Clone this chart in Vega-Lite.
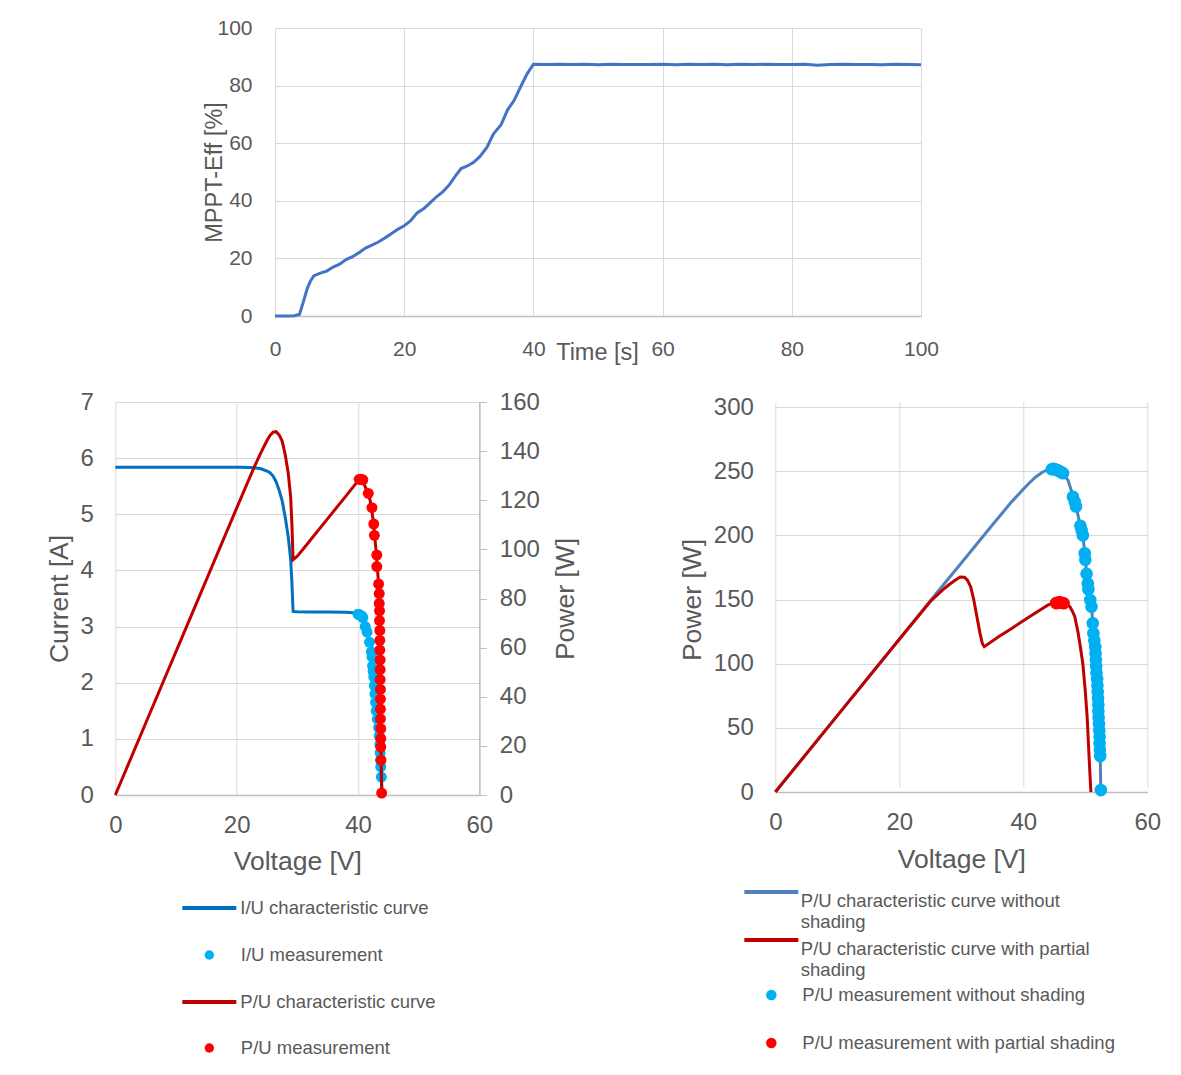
{
  "$schema": "https://vega.github.io/schema/vega-lite/v6.json",
  "background": "white",
  "padding": {"left": 46, "top": 17, "right": 0, "bottom": 0},
  "config": {
    "font": "Liberation Sans",
    "view": {"stroke": null},
    "axis": {
      "labelColor": "#595959", "titleColor": "#595959", "gridColor": "#D9D9D9", "gridWidth": 1,
      "domainColor": "#BFBFBF", "domainWidth": 1.5, "tickColor": "#BFBFBF", "ticks": false, "domain": false,
      "titleFontWeight": "normal", "labelFont": "Liberation Sans", "titleFont": "Liberation Sans", "labelFlush": false
    },
    "legend": {
      "orient": "none", "direction": "vertical", "padding": 0,
      "labelFontSize": 18.5, "labelColor": "#595959", "labelFont": "Liberation Sans", "labelLimit": 500
    }
  },
  "datasets": {
    "mppt": [
      {"t":0,"eff":0},{"t":1,"eff":0},{"t":2,"eff":0},{"t":3,"eff":0.1},{"t":3.8,"eff":0.6},{"t":4.4,"eff":5},{"t":5,"eff":9.6},{"t":5.5,"eff":12.2},{"t":6,"eff":13.9},{"t":7,"eff":14.9},{"t":8,"eff":15.6},{"t":9,"eff":17},{"t":10,"eff":18},{"t":11,"eff":19.6},{"t":12,"eff":20.6},{"t":13,"eff":22},{"t":14,"eff":23.6},{"t":15,"eff":24.6},{"t":16,"eff":25.7},{"t":17,"eff":27.1},{"t":18,"eff":28.6},{"t":19,"eff":30.1},{"t":20,"eff":31.3},{"t":21,"eff":33.1},{"t":22,"eff":35.8},{"t":23,"eff":37.2},{"t":24,"eff":39.3},{"t":25,"eff":41.4},{"t":26,"eff":43.2},{"t":27,"eff":45.6},{"t":28,"eff":48.8},{"t":28.8,"eff":51.2},{"t":29.7,"eff":52},{"t":30.7,"eff":53.3},{"t":31.7,"eff":55.3},{"t":32.8,"eff":58.5},{"t":33.8,"eff":63.2},{"t":35,"eff":66.4},{"t":36,"eff":71.6},{"t":37,"eff":74.8},{"t":38,"eff":79.5},{"t":39,"eff":84},{"t":40,"eff":87.4},{"t":42,"eff":87.3},{"t":44,"eff":87.4},{"t":46,"eff":87.3},{"t":48,"eff":87.4},{"t":50,"eff":87.2},{"t":52,"eff":87.4},{"t":54,"eff":87.3},{"t":56,"eff":87.3},{"t":58,"eff":87.3},{"t":60,"eff":87.4},{"t":62,"eff":87.2},{"t":64,"eff":87.4},{"t":66,"eff":87.3},{"t":68,"eff":87.4},{"t":70,"eff":87.2},{"t":72,"eff":87.4},{"t":74,"eff":87.3},{"t":76,"eff":87.4},{"t":78,"eff":87.3},{"t":80,"eff":87.3},{"t":82,"eff":87.4},{"t":84,"eff":87.1},{"t":86,"eff":87.3},{"t":88,"eff":87.4},{"t":90,"eff":87.3},{"t":92,"eff":87.3},{"t":94,"eff":87.2},{"t":96,"eff":87.4},{"t":98,"eff":87.3},{"t":100,"eff":87.2}
    ],
    "iu_curve": [
      {"s":"I/U characteristic curve","V":0,"I":5.84},{"s":"I/U characteristic curve","V":5,"I":5.84},{"s":"I/U characteristic curve","V":10,"I":5.84},{"s":"I/U characteristic curve","V":15,"I":5.84},{"s":"I/U characteristic curve","V":20,"I":5.84},{"s":"I/U characteristic curve","V":21,"I":5.838},{"s":"I/U characteristic curve","V":22,"I":5.835},{"s":"I/U characteristic curve","V":23,"I":5.83},{"s":"I/U characteristic curve","V":24,"I":5.81},{"s":"I/U characteristic curve","V":25,"I":5.77},{"s":"I/U characteristic curve","V":25.5,"I":5.74},{"s":"I/U characteristic curve","V":26,"I":5.68},{"s":"I/U characteristic curve","V":26.5,"I":5.58},{"s":"I/U characteristic curve","V":27,"I":5.43},{"s":"I/U characteristic curve","V":27.5,"I":5.24},{"s":"I/U characteristic curve","V":28,"I":4.95},{"s":"I/U characteristic curve","V":28.5,"I":4.6},{"s":"I/U characteristic curve","V":28.9,"I":4.2},{"s":"I/U characteristic curve","V":29.1,"I":3.8},{"s":"I/U characteristic curve","V":29.3,"I":3.27},{"s":"I/U characteristic curve","V":30,"I":3.265},{"s":"I/U characteristic curve","V":32,"I":3.26},{"s":"I/U characteristic curve","V":35,"I":3.26},{"s":"I/U characteristic curve","V":38,"I":3.255},{"s":"I/U characteristic curve","V":40,"I":3.24},{"s":"I/U characteristic curve","V":40.5,"I":3.2},{"s":"I/U characteristic curve","V":41,"I":3.1},{"s":"I/U characteristic curve","V":41.5,"I":2.95},{"s":"I/U characteristic curve","V":42,"I":2.7},{"s":"I/U characteristic curve","V":42.5,"I":2.25},{"s":"I/U characteristic curve","V":43,"I":1.6},{"s":"I/U characteristic curve","V":43.3,"I":1.25},{"s":"I/U characteristic curve","V":43.6,"I":0.85},{"s":"I/U characteristic curve","V":43.8,"I":0.45},{"s":"I/U characteristic curve","V":44,"I":0}
    ],
    "iu_meas": [
      {"s":"I/U measurement","V":40.0,"I":3.22},{"s":"I/U measurement","V":40.2,"I":3.21},{"s":"I/U measurement","V":40.4,"I":3.2},{"s":"I/U measurement","V":40.6,"I":3.19},{"s":"I/U measurement","V":40.8,"I":3.16},{"s":"I/U measurement","V":41.2,"I":3.0},{"s":"I/U measurement","V":41.5,"I":2.9},{"s":"I/U measurement","V":41.9,"I":2.72},{"s":"I/U measurement","V":42.2,"I":2.55},{"s":"I/U measurement","V":42.3,"I":2.46},{"s":"I/U measurement","V":42.4,"I":2.3},{"s":"I/U measurement","V":42.5,"I":2.2},{"s":"I/U measurement","V":42.6,"I":2.1},{"s":"I/U measurement","V":42.7,"I":1.95},{"s":"I/U measurement","V":42.8,"I":1.8},{"s":"I/U measurement","V":42.9,"I":1.65},{"s":"I/U measurement","V":43.0,"I":1.5},{"s":"I/U measurement","V":43.2,"I":1.35},{"s":"I/U measurement","V":43.4,"I":1.2},{"s":"I/U measurement","V":43.5,"I":1.05},{"s":"I/U measurement","V":43.6,"I":0.9},{"s":"I/U measurement","V":43.65,"I":0.75},{"s":"I/U measurement","V":43.7,"I":0.62},{"s":"I/U measurement","V":43.75,"I":0.5},{"s":"I/U measurement","V":43.85,"I":0.32}
    ],
    "pu_curve": [
      {"s":"P/U characteristic curve","V":0,"P":0},{"s":"P/U characteristic curve","V":5,"P":29.2},{"s":"P/U characteristic curve","V":10,"P":58.4},{"s":"P/U characteristic curve","V":15,"P":87.6},{"s":"P/U characteristic curve","V":20,"P":116.8},{"s":"P/U characteristic curve","V":21,"P":122.6},{"s":"P/U characteristic curve","V":22,"P":128.4},{"s":"P/U characteristic curve","V":23,"P":134.1},{"s":"P/U characteristic curve","V":24,"P":139.4},{"s":"P/U characteristic curve","V":25,"P":144.3},{"s":"P/U characteristic curve","V":25.5,"P":146.4},{"s":"P/U characteristic curve","V":26,"P":147.7},{"s":"P/U characteristic curve","V":26.5,"P":147.9},{"s":"P/U characteristic curve","V":27,"P":146.6},{"s":"P/U characteristic curve","V":27.5,"P":144.1},{"s":"P/U characteristic curve","V":28,"P":138.6},{"s":"P/U characteristic curve","V":28.5,"P":131.1},{"s":"P/U characteristic curve","V":28.9,"P":121.4},{"s":"P/U characteristic curve","V":29.1,"P":110.6},{"s":"P/U characteristic curve","V":29.3,"P":95.8},{"s":"P/U characteristic curve","V":30,"P":97.2},{"s":"P/U characteristic curve","V":32,"P":103.3},{"s":"P/U characteristic curve","V":35,"P":112.5},{"s":"P/U characteristic curve","V":38,"P":121.7},{"s":"P/U characteristic curve","V":40,"P":127.9},{"s":"P/U characteristic curve","V":40.5,"P":128.6},{"s":"P/U characteristic curve","V":41,"P":126.5},{"s":"P/U characteristic curve","V":41.5,"P":123.8},{"s":"P/U characteristic curve","V":42,"P":120},{"s":"P/U characteristic curve","V":42.5,"P":112},{"s":"P/U characteristic curve","V":43,"P":99},{"s":"P/U characteristic curve","V":43.3,"P":89},{"s":"P/U characteristic curve","V":43.5,"P":80},{"s":"P/U characteristic curve","V":43.6,"P":67},{"s":"P/U characteristic curve","V":43.7,"P":40},{"s":"P/U characteristic curve","V":43.8,"P":18},{"s":"P/U characteristic curve","V":43.9,"P":0}
    ],
    "pu_meas": [
      {"s":"P/U measurement","V":40.2,"P":128.5},{"s":"P/U measurement","V":40.4,"P":128.6},{"s":"P/U measurement","V":40.6,"P":128.5},{"s":"P/U measurement","V":40.8,"P":128.3},{"s":"P/U measurement","V":41.7,"P":122.8},{"s":"P/U measurement","V":42.3,"P":117},{"s":"P/U measurement","V":42.6,"P":110.3},{"s":"P/U measurement","V":42.7,"P":105.7},{"s":"P/U measurement","V":43.1,"P":97.7},{"s":"P/U measurement","V":43.1,"P":93},{"s":"P/U measurement","V":43.4,"P":85.9},{"s":"P/U measurement","V":43.5,"P":82},{"s":"P/U measurement","V":43.5,"P":78},{"s":"P/U measurement","V":43.55,"P":75},{"s":"P/U measurement","V":43.55,"P":71},{"s":"P/U measurement","V":43.6,"P":67},{"s":"P/U measurement","V":43.6,"P":63},{"s":"P/U measurement","V":43.6,"P":59},{"s":"P/U measurement","V":43.65,"P":55},{"s":"P/U measurement","V":43.65,"P":51},{"s":"P/U measurement","V":43.65,"P":47},{"s":"P/U measurement","V":43.7,"P":43},{"s":"P/U measurement","V":43.7,"P":39},{"s":"P/U measurement","V":43.7,"P":35},{"s":"P/U measurement","V":43.7,"P":31},{"s":"P/U measurement","V":43.75,"P":27},{"s":"P/U measurement","V":43.75,"P":23},{"s":"P/U measurement","V":43.75,"P":19.5},{"s":"P/U measurement","V":43.8,"P":14.2},{"s":"P/U measurement","V":43.9,"P":0.8}
    ],
    "r_curve_ns": [
      {"s":"P/U characteristic curve without shading","V":0,"P":0},{"s":"P/U characteristic curve without shading","V":10,"P":59.5},{"s":"P/U characteristic curve without shading","V":20,"P":119},{"s":"P/U characteristic curve without shading","V":25,"P":149},{"s":"P/U characteristic curve without shading","V":30,"P":178.5},{"s":"P/U characteristic curve without shading","V":35,"P":208},{"s":"P/U characteristic curve without shading","V":38,"P":225.5},{"s":"P/U characteristic curve without shading","V":40,"P":236},{"s":"P/U characteristic curve without shading","V":41,"P":241},{"s":"P/U characteristic curve without shading","V":42,"P":245.5},{"s":"P/U characteristic curve without shading","V":43,"P":249},{"s":"P/U characteristic curve without shading","V":44,"P":251.3},{"s":"P/U characteristic curve without shading","V":44.8,"P":251.8},{"s":"P/U characteristic curve without shading","V":45.5,"P":251.2},{"s":"P/U characteristic curve without shading","V":46.4,"P":248.5},{"s":"P/U characteristic curve without shading","V":47.2,"P":243},{"s":"P/U characteristic curve without shading","V":48,"P":231},{"s":"P/U characteristic curve without shading","V":48.5,"P":222.5},{"s":"P/U characteristic curve without shading","V":49.2,"P":207.5},{"s":"P/U characteristic curve without shading","V":49.6,"P":200},{"s":"P/U characteristic curve without shading","V":50,"P":182},{"s":"P/U characteristic curve without shading","V":50.2,"P":170},{"s":"P/U characteristic curve without shading","V":50.5,"P":158},{"s":"P/U characteristic curve without shading","V":50.8,"P":150},{"s":"P/U characteristic curve without shading","V":51,"P":144},{"s":"P/U characteristic curve without shading","V":51.2,"P":131.5},{"s":"P/U characteristic curve without shading","V":51.4,"P":120},{"s":"P/U characteristic curve without shading","V":51.6,"P":113},{"s":"P/U characteristic curve without shading","V":51.8,"P":98},{"s":"P/U characteristic curve without shading","V":52,"P":80},{"s":"P/U characteristic curve without shading","V":52.2,"P":55},{"s":"P/U characteristic curve without shading","V":52.4,"P":28},{"s":"P/U characteristic curve without shading","V":52.5,"P":0}
    ],
    "r_curve_ps": [
      {"s":"P/U characteristic curve with partial shading","V":0,"P":0},{"s":"P/U characteristic curve with partial shading","V":10,"P":59.5},{"s":"P/U characteristic curve with partial shading","V":20,"P":119},{"s":"P/U characteristic curve with partial shading","V":25,"P":148.5},{"s":"P/U characteristic curve with partial shading","V":26,"P":153},{"s":"P/U characteristic curve with partial shading","V":27,"P":157.5},{"s":"P/U characteristic curve with partial shading","V":28,"P":161.5},{"s":"P/U characteristic curve with partial shading","V":29,"P":165},{"s":"P/U characteristic curve with partial shading","V":29.8,"P":167.5},{"s":"P/U characteristic curve with partial shading","V":30.5,"P":167.3},{"s":"P/U characteristic curve with partial shading","V":31,"P":165},{"s":"P/U characteristic curve with partial shading","V":31.5,"P":160},{"s":"P/U characteristic curve with partial shading","V":32,"P":150},{"s":"P/U characteristic curve with partial shading","V":32.5,"P":137},{"s":"P/U characteristic curve with partial shading","V":33,"P":124},{"s":"P/U characteristic curve with partial shading","V":33.4,"P":115.5},{"s":"P/U characteristic curve with partial shading","V":33.7,"P":113.2},{"s":"P/U characteristic curve with partial shading","V":36,"P":120.9},{"s":"P/U characteristic curve with partial shading","V":38,"P":127.1},{"s":"P/U characteristic curve with partial shading","V":40,"P":133.4},{"s":"P/U characteristic curve with partial shading","V":42,"P":139.6},{"s":"P/U characteristic curve with partial shading","V":44,"P":145.8},{"s":"P/U characteristic curve with partial shading","V":45,"P":147.3},{"s":"P/U characteristic curve with partial shading","V":46,"P":147.6},{"s":"P/U characteristic curve with partial shading","V":46.8,"P":146.5},{"s":"P/U characteristic curve with partial shading","V":47.5,"P":144.5},{"s":"P/U characteristic curve with partial shading","V":48,"P":140},{"s":"P/U characteristic curve with partial shading","V":48.3,"P":136.6},{"s":"P/U characteristic curve with partial shading","V":48.8,"P":125},{"s":"P/U characteristic curve with partial shading","V":49.2,"P":113},{"s":"P/U characteristic curve with partial shading","V":49.6,"P":100},{"s":"P/U characteristic curve with partial shading","V":50,"P":78},{"s":"P/U characteristic curve with partial shading","V":50.3,"P":58},{"s":"P/U characteristic curve with partial shading","V":50.5,"P":38},{"s":"P/U characteristic curve with partial shading","V":50.7,"P":18},{"s":"P/U characteristic curve with partial shading","V":50.9,"P":0}
    ],
    "r_meas_ns": [
      {"s":"P/U measurement without shading","V":44.6,"P":251.5},{"s":"P/U measurement without shading","V":44.8,"P":251.8},{"s":"P/U measurement without shading","V":45.0,"P":251.6},{"s":"P/U measurement without shading","V":45.2,"P":251.2},{"s":"P/U measurement without shading","V":45.5,"P":250.8},{"s":"P/U measurement without shading","V":45.8,"P":250},{"s":"P/U measurement without shading","V":46.1,"P":249.3},{"s":"P/U measurement without shading","V":46.4,"P":248.4},{"s":"P/U measurement without shading","V":48.0,"P":230},{"s":"P/U measurement without shading","V":48.3,"P":226},{"s":"P/U measurement without shading","V":48.5,"P":222.5},{"s":"P/U measurement without shading","V":49.2,"P":207.5},{"s":"P/U measurement without shading","V":49.4,"P":204},{"s":"P/U measurement without shading","V":49.6,"P":200},{"s":"P/U measurement without shading","V":49.9,"P":186},{"s":"P/U measurement without shading","V":50.0,"P":181},{"s":"P/U measurement without shading","V":50.2,"P":170},{"s":"P/U measurement without shading","V":50.4,"P":162.5},{"s":"P/U measurement without shading","V":50.5,"P":158},{"s":"P/U measurement without shading","V":50.8,"P":149.6},{"s":"P/U measurement without shading","V":51.0,"P":144.4},{"s":"P/U measurement without shading","V":51.2,"P":131.5},{"s":"P/U measurement without shading","V":51.3,"P":123.7},{"s":"P/U measurement without shading","V":51.45,"P":118},{"s":"P/U measurement without shading","V":51.6,"P":113},{"s":"P/U measurement without shading","V":51.65,"P":108},{"s":"P/U measurement without shading","V":51.7,"P":103},{"s":"P/U measurement without shading","V":51.75,"P":98},{"s":"P/U measurement without shading","V":51.8,"P":93},{"s":"P/U measurement without shading","V":51.9,"P":88},{"s":"P/U measurement without shading","V":51.95,"P":83},{"s":"P/U measurement without shading","V":52.0,"P":78},{"s":"P/U measurement without shading","V":52.05,"P":73},{"s":"P/U measurement without shading","V":52.1,"P":68},{"s":"P/U measurement without shading","V":52.1,"P":63},{"s":"P/U measurement without shading","V":52.15,"P":58},{"s":"P/U measurement without shading","V":52.2,"P":53},{"s":"P/U measurement without shading","V":52.25,"P":48},{"s":"P/U measurement without shading","V":52.3,"P":43},{"s":"P/U measurement without shading","V":52.3,"P":38},{"s":"P/U measurement without shading","V":52.35,"P":33},{"s":"P/U measurement without shading","V":52.4,"P":28},{"s":"P/U measurement without shading","V":52.5,"P":1.5}
    ],
    "r_meas_ps": [
      {"s":"P/U measurement with partial shading","V":45.3,"P":147.2},{"s":"P/U measurement with partial shading","V":45.6,"P":147.6},{"s":"P/U measurement with partial shading","V":45.9,"P":147.7},{"s":"P/U measurement with partial shading","V":46.2,"P":147.5},{"s":"P/U measurement with partial shading","V":46.5,"P":147.1}
    ]
  },
  "vconcat": [
    {
      "width": 726, "height": 288,
      "data": {"name": "mppt"},
      "mark": {"type": "line", "color": "#4472C4", "strokeWidth": 3},
      "encoding": {
        "x": {"field": "t", "type": "quantitative",
          "scale": {"domain": [0, 100], "range": [0, 646], "nice": false},
          "axis": {"values": [0,20,40,60,80,100], "title": "Time [s]", "grid": true, "domain": true,
            "labelFontSize": 21, "labelPadding": 22, "titleFontSize": 23.5,
            "titleX": 322, "titleY": 36, "titleBaseline": "middle"}},
        "y": {"field": "eff", "type": "quantitative",
          "scale": {"domain": [0, 100], "nice": false},
          "axis": {"values": [0,20,40,60,80,100], "title": "MPPT-Eff [%]", "grid": true,
            "labelFontSize": 21, "labelPadding": 23, "titleFontSize": 23.5,
            "titleX": -61, "titleY": 144, "titleBaseline": "middle"}}
      }
    },
    {
      "hconcat": [
        {
          "width": 364, "height": 393,
          "layer": [
            {
              "layer": [
                {
                  "data": {"name": "iu_curve"},
                  "mark": {"type": "line", "strokeWidth": 3},
                  "encoding": {
                    "x": {"field": "V", "type": "quantitative", "scale": {"domain": [0, 60], "nice": false},
                      "axis": {"values": [0,20,40,60], "title": "Voltage [V]", "grid": true, "domain": true, "format": "d",
                        "labelFontSize": 24, "labelPadding": 18.5, "titleFontSize": 26.5,
                        "titleX": 182, "titleY": 66, "titleBaseline": "middle"}},
                    "y": {"field": "I", "type": "quantitative", "scale": {"domain": [0, 7], "nice": false},
                      "axis": {"values": [0,1,2,3,4,5,6,7], "title": "Current [A]", "grid": true, "orient": "left", "format": "d",
                        "labelFontSize": 24, "labelPadding": 22, "titleFontSize": 26.5,
                        "titleX": -55.5, "titleY": 196.5, "titleBaseline": "middle"}},
                    "stroke": {"field": "s", "type": "nominal",
                      "scale": {"domain": ["I/U characteristic curve"], "range": ["#0070C0"]},
                      "legend": {"title": null, "legendX": 65, "legendY": 477,
                        "symbolType": "stroke", "symbolSize": 2916, "symbolStrokeWidth": 4, "labelOffset": 2}}
                  }
                },
                {
                  "data": {"name": "iu_meas"},
                  "mark": {"type": "circle", "size": 120, "opacity": 1},
                  "encoding": {
                    "x": {"field": "V", "type": "quantitative"},
                    "y": {"field": "I", "type": "quantitative"},
                    "fill": {"field": "s", "type": "nominal",
                      "scale": {"domain": ["I/U measurement"], "range": ["#00B0F0"]},
                      "legend": {"title": null, "legendX": 84.75, "legendY": 543.75,
                        "symbolType": "circle", "symbolSize": 88, "symbolStrokeWidth": 0, "labelOffset": 22.25}}
                  }
                }
              ]
            },
            {
              "layer": [
                {
                  "data": {"name": "pu_curve"},
                  "mark": {"type": "line", "strokeWidth": 3},
                  "encoding": {
                    "x": {"field": "V", "type": "quantitative"},
                    "y": {"field": "P", "type": "quantitative", "scale": {"domain": [0, 160], "nice": false},
                      "axis": {"values": [0,20,40,60,80,100,120,140,160], "title": "Power [W]", "grid": false, "orient": "right", "format": "d",
                        "domain": true, "ticks": true, "tickSize": 7, "tickColor": "#BFBFBF",
                        "labelFontSize": 24, "labelPadding": 13, "titleFontSize": 26.5, "titleAngle": 270,
                        "titleX": 86.5, "titleY": 196.5, "titleBaseline": "middle"}},
                    "color": {"field": "s", "type": "nominal",
                      "scale": {"domain": ["P/U characteristic curve"], "range": ["#C00000"]},
                      "legend": {"title": null, "legendX": 65, "legendY": 571,
                        "symbolType": "stroke", "symbolSize": 2916, "symbolStrokeWidth": 4, "labelOffset": 2}}
                  }
                },
                {
                  "data": {"name": "pu_meas"},
                  "mark": {"type": "point", "filled": true, "color": "#FF0000", "size": 120, "opacity": 1},
                  "encoding": {
                    "x": {"field": "V", "type": "quantitative"},
                    "y": {"field": "P", "type": "quantitative"},
                    "shape": {"field": "s", "type": "nominal",
                      "scale": {"domain": ["P/U measurement"], "range": ["circle"]},
                      "legend": {"title": null, "legendX": 84.75, "legendY": 636.75,
                        "symbolType": "circle", "symbolSize": 88, "symbolStrokeWidth": 0, "labelOffset": 22.25}}
                  }
                }
              ]
            }
          ],
          "resolve": {"scale": {"y": "independent"}, "axis": {"y": "independent"}}
        },
        {
          "width": 372, "height": 390,
          "layer": [
            {
              "data": {"name": "r_curve_ns"},
              "mark": {"type": "line", "strokeWidth": 3},
              "encoding": {
                "x": {"field": "V", "type": "quantitative", "scale": {"domain": [0, 60], "nice": false},
                  "axis": {"values": [0,20,40,60], "title": "Voltage [V]", "grid": true, "domain": true, "format": "d",
                    "labelFontSize": 24, "labelPadding": 18.5, "titleFontSize": 26.5,
                    "titleX": 186, "titleY": 67, "titleBaseline": "middle"}},
                "y": {"field": "P", "type": "quantitative", "scale": {"domain": [0, 300], "range": [390, 5], "nice": false},
                  "axis": {"values": [0,50,100,150,200,250,300], "title": "Power [W]", "grid": true, "format": "d",
                    "labelFontSize": 24, "labelPadding": 22, "titleFontSize": 26.5,
                    "titleX": -83, "titleY": 197.5, "titleBaseline": "middle"}},
                "color": {"field": "s", "type": "nominal",
                  "scale": {"domain": ["P/U characteristic curve without shading"], "range": ["#4F81BD"]},
                  "legend": {"title": null, "legendX": -33, "legendY": 461,
                    "symbolType": "stroke", "symbolSize": 2916, "symbolStrokeWidth": 4, "labelOffset": 0.5,
                    "labelBaseline": "top",
                    "labelExpr": "['P/U characteristic curve without', 'shading']"}}
              }
            },
            {
              "data": {"name": "r_curve_ps"},
              "mark": {"type": "line", "strokeWidth": 3},
              "encoding": {
                "x": {"field": "V", "type": "quantitative"},
                "y": {"field": "P", "type": "quantitative"},
                "stroke": {"field": "s", "type": "nominal",
                  "scale": {"domain": ["P/U characteristic curve with partial shading"], "range": ["#C00000"]},
                  "legend": {"title": null, "legendX": -33, "legendY": 509,
                    "symbolType": "stroke", "symbolSize": 2916, "symbolStrokeWidth": 4, "labelOffset": 0.5,
                    "labelBaseline": "top",
                    "labelExpr": "['P/U characteristic curve with partial', 'shading']"}}
              }
            },
            {
              "data": {"name": "r_meas_ns"},
              "mark": {"type": "circle", "size": 160, "opacity": 1},
              "encoding": {
                "x": {"field": "V", "type": "quantitative"},
                "y": {"field": "P", "type": "quantitative"},
                "fill": {"field": "s", "type": "nominal",
                  "scale": {"domain": ["P/U measurement without shading"], "range": ["#00B0F0"]},
                  "legend": {"title": null, "legendX": -13.25, "legendY": 583.75,
                    "symbolType": "circle", "symbolSize": 110, "symbolStrokeWidth": 0, "labelOffset": 21.75}}
              }
            },
            {
              "data": {"name": "r_meas_ps"},
              "mark": {"type": "point", "filled": true, "color": "#FF0000", "size": 160, "opacity": 1},
              "encoding": {
                "x": {"field": "V", "type": "quantitative"},
                "y": {"field": "P", "type": "quantitative"},
                "shape": {"field": "s", "type": "nominal",
                  "scale": {"domain": ["P/U measurement with partial shading"], "range": ["circle"]},
                  "legend": {"title": null, "legendX": -13.25, "legendY": 631.75,
                    "symbolType": "circle", "symbolSize": 110, "symbolStrokeWidth": 0, "labelOffset": 21.75}}
              }
            }
          ]
        }
      ],
      "spacing": 100,
      "resolve": {
        "scale": {"color": "independent", "fill": "independent", "stroke": "independent", "shape": "independent"},
        "legend": {"color": "independent", "fill": "independent", "stroke": "independent", "shape": "independent"}
      }
    }
  ],
  "spacing": 26,
  "center": true
}
